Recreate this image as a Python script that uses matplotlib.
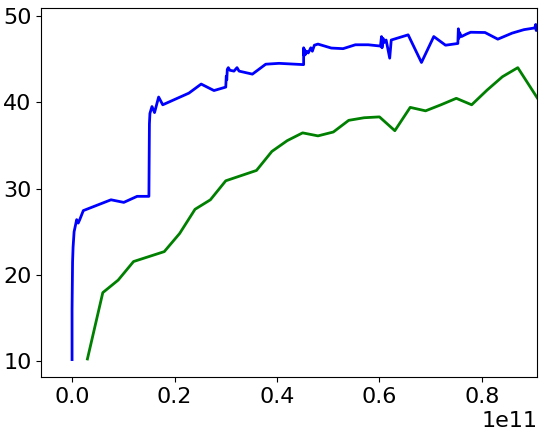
import matplotlib
matplotlib.use("Agg")
import matplotlib.pyplot as plt
import numpy as np

# Blue series (x in units of 1e11)
blue_x = [0.000, 0.000, 0.001, 0.002, 0.004, 0.009, 0.012, 0.015, 0.022, 0.076, 0.101,
          0.127, 0.150, 0.151, 0.152, 0.156, 0.161, 0.169, 0.177, 0.228, 0.252, 0.277,
          0.300, 0.301, 0.302, 0.303, 0.305, 0.308, 0.316, 0.322, 0.326, 0.352, 0.378,
          0.404, 0.452, 0.452, 0.453, 0.454, 0.455, 0.458, 0.461, 0.466, 0.469, 0.473,
          0.480, 0.506, 0.529, 0.553, 0.578, 0.602, 0.604, 0.605, 0.607, 0.609, 0.613,
          0.620, 0.623, 0.656, 0.682, 0.706, 0.729, 0.753, 0.754, 0.755, 0.756, 0.760,
          0.770, 0.778, 0.806, 0.831, 0.859, 0.882, 0.903, 0.905, 0.906, 0.907, 0.908]
blue_y = [10.2, 16.0, 21.5, 23.2, 25.0, 26.4, 26.0, 26.4, 27.45, 28.7, 28.4,
          29.1, 29.1, 37.5, 38.7, 39.5, 38.8, 40.6, 39.7, 41.05, 42.1, 41.35,
          41.75, 43.0, 42.6, 43.8, 44.0, 43.7, 43.6, 44.0, 43.6, 43.25, 44.4,
          44.5, 44.35, 46.3, 45.4, 46.1, 45.5, 45.9, 45.7, 46.3, 45.9, 46.6,
          46.73, 46.27, 46.2, 46.65, 46.65, 46.5, 47.6, 46.3, 47.4, 46.9, 47.2,
          45.1, 47.2, 47.8, 44.6, 47.6, 46.6, 46.8, 48.5, 47.4, 48.1, 47.6,
          47.9, 48.1, 48.07, 47.3, 48.0, 48.4, 48.6, 49.0, 48.3, 48.9, 48.5]

# Green series (x in units of 1e11)
green_x = [0.03, 0.06, 0.09, 0.12, 0.18, 0.21, 0.24, 0.27, 0.30, 0.36, 0.39, 0.42,
           0.45, 0.48, 0.51, 0.54, 0.57, 0.60, 0.63, 0.66, 0.69, 0.72, 0.75, 0.78,
           0.81, 0.84, 0.87, 0.908]
green_y = [10.27, 17.95, 19.4, 21.55, 22.7, 24.8, 27.6, 28.7, 30.9, 32.1, 34.3, 35.55,
           36.45, 36.1, 36.55, 37.9, 38.2, 38.3, 36.7, 39.4, 39.0, 39.7, 40.45, 39.7,
           41.4, 42.95, 44.0, 40.5]

SCALE = 1e11

fig = plt.figure(figsize=(5.45, 4.36), dpi=100)
ax = fig.add_axes([0.0758, 0.1353, 0.910, 0.846])
ax.plot(np.array(blue_x) * SCALE, blue_y, color="blue", lw=2)
ax.plot(np.array(green_x) * SCALE, green_y, color="green", lw=2)
ax.set_xlim(-0.060 * SCALE, 0.908 * SCALE)
ax.set_ylim(8.18, 50.89)
ax.set_yticks([10, 20, 30, 40, 50])
ax.set_xticks([0.0, 0.2 * SCALE, 0.4 * SCALE, 0.6 * SCALE, 0.8 * SCALE])
ax.ticklabel_format(axis="x", style="sci", scilimits=(11, 11))
ax.tick_params(labelsize=16)
ax.xaxis.get_offset_text().set_fontsize(16)
fig.savefig("out.png", dpi=100)
